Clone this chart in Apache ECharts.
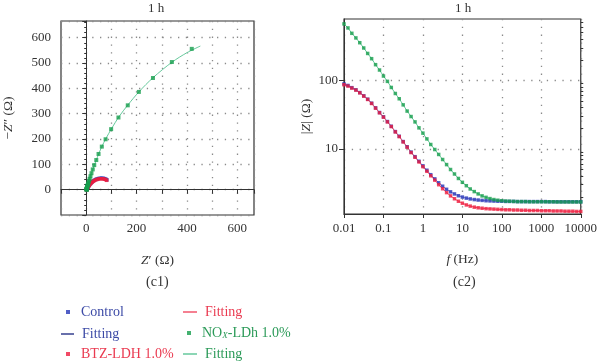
<!DOCTYPE html>
<html><head><meta charset="utf-8">
<script src="https://cdn.jsdelivr.net/npm/echarts@6/dist/echarts.min.js"></script>
<style>html,body{margin:0;padding:0;background:#fff}#c{width:600px;height:363px}</style>
</head><body><div id="c"></div><script>
// ---------- Nyquist (c1) ----------
const nyqControlX = [1.7,1.9,2.2,2.6,3.1,3.7,4.4,5.2,6.2,7.4,8.8,10.5,12.5,14.8,17.5,20.6,24.2,28.2,32.7,37.7,43.2,49.2,55.4,61.6,67.6,73,77.8,82];
const nyqControlY = [0.2,0.6,1.2,2,3,4.2,5.6,7.2,9.1,11.2,13.6,16.2,19,22,25.1,28.3,31.5,34.6,37.5,40.2,42.4,44.1,45.1,45.4,44.9,43.6,41.6,39];
const nyqBtzX = [1.3,1.5,1.8,2.2,2.7,3.3,4,4.8,5.8,7,8.4,10.1,12.1,14.4,17.1,20.2,23.8,27.8,32.3,37.3,42.8,48.8,55,61.2,67.2,72.6,77.4,81.6];
const nyqBtzY = [0.2,0.5,1,1.7,2.6,3.7,5,6.5,8.3,10.3,12.6,15.1,17.8,20.7,23.7,26.8,29.9,33,35.8,38.4,40.5,42.1,43,43.2,42.7,41.4,39.5,37];
const nyqNoxX = [1.7,1.75,1.8,1.9,2,2.2,2.4,2.7,3,3.4,3.9,4.5,5.3,6.3,7.5,9,11,14,17,21,26,32,40,49,62,77,99,128,165,209,265,340,419];
const nyqNoxY = [0.3,0.6,1,1.6,2.3,3.1,4.1,5.3,6.7,8.3,10.2,12.5,15.5,19,23,28,35,43,53,65,80,97,117,141,170,199,239,285,333,386,441,504,556];
const nyqNoxFitX = [1.7,3,6,10,20,40,60,80,100,130,165,210,265,340,400,453];
const nyqNoxFitY = [0,7,19,33,63,117,166,205,240,288,334,387,442,503,541,567];
const nyqTicks = [0,200,400,600];

// ---------- Bode (c2) ----------
const freq = [0.01,0.0126,0.0158,0.02,0.0251,0.0316,0.0398,0.0501,0.0631,0.0794,
  0.1,0.126,0.158,0.2,0.251,0.316,0.398,0.501,0.631,0.794,
  1,1.26,1.58,2,2.51,3.16,3.98,5.01,6.31,7.94,
  10,12.6,15.8,20,25.1,31.6,39.8,50.1,63.1,79.4,
  100,126,158,200,251,316,398,501,631,794,
  1000,1260,1580,2000,2510,3160,3980,5010,6310,7940,10000];
const bodeControl = [89,84.5,78.5,73,66.5,59.6,53.2,46.5,39.8,34,
  29.4,25.1,21.4,17.9,15.3,12.8,10.75,8.98,7.7,6.6,
  5.66,4.88,4.2,3.65,3.2,2.85,2.57,2.36,2.2,2.07,
  1.98,1.91,1.86,1.82,1.79,1.77,1.75,1.74,1.73,1.72,
  1.72,1.71,1.71,1.71,1.70,1.70,1.70,1.70,1.70,1.70,
  1.70,1.70,1.69,1.69,1.69,1.69,1.69,1.69,1.69,1.69,1.69];
const bodeBtz = [86.5,82.8,77.4,72.3,66,59.1,52.8,46.1,39.4,33.7,
  29.1,24.8,21.2,17.7,15.1,12.65,10.6,8.84,7.56,6.45,
  5.51,4.71,4.05,3.5,3.0,2.62,2.3,2.06,1.87,1.72,
  1.61,1.52,1.46,1.41,1.38,1.36,1.34,1.33,1.32,1.31,
  1.30,1.29,1.29,1.28,1.28,1.27,1.27,1.26,1.26,1.26,
  1.25,1.25,1.25,1.24,1.24,1.24,1.23,1.23,1.23,1.22,1.22];
const bodeNox = [670,585,488,418,356,298,248,208,170,142,
  116,97,79,64.5,54,44,35.7,29.7,24.8,20.3,
  17,14,11.6,9.8,8.3,7,5.9,5,4.3,3.7,
  3.25,2.9,2.6,2.38,2.2,2.06,1.96,1.88,1.82,1.78,
  1.75,1.73,1.72,1.71,1.70,1.70,1.70,1.69,1.69,1.69,
  1.69,1.69,1.69,1.69,1.68,1.68,1.68,1.68,1.68,1.68,1.68];
const bodeYLabels = [10,100];
const bodeYMinor = [2,3,4,5,6,7,8,9,20,30,40,50,60,70,80,90,200,300,400,500,600,700];

const FONT = '"Liberation Serif","DejaVu Serif",serif';
const C_BLUE = '#2636b8', C_BLUE_FIT = '#36408f', C_BLUE_TXT = '#3c4aa6';
const C_RED = '#ee1d3f', C_RED_FIT = '#f2566c', C_RED_TXT = '#ea3a50';
const C_GREEN = '#159e4c', C_GREEN_FIT = '#66c99c', C_GREEN_TXT = '#2b9a58';

const pairs = (xs, ys) => xs.map((x, i) => [x, ys[i]]);

const gridLine = {show: true, lineStyle: {color: '#8a8a8a', width: 1.3, type: [1.3, 6.5]}};
const axLine = {show: true, lineStyle: {color: '#333', width: 1}};
const lbl = {color: '#333', fontFamily: FONT, fontSize: 13};
const nameStyle = {color: '#333', fontFamily: FONT, fontSize: 13.5, rich: {i: {fontStyle: 'italic', fontFamily: FONT, fontSize: 13.5, color: '#333'}}};

function fit(name, data, color, xi, width) {
  return {name, type: 'line', xAxisIndex: xi, yAxisIndex: xi, data, smooth: xi === 0 ? 0.3 : false,
    symbol: 'none', lineStyle: {color, width}, itemStyle: {color}, z: 2, silent: true};
}
function pts(name, data, color, xi, size) {
  return {name, type: 'scatter', xAxisIndex: xi, yAxisIndex: xi, data, symbol: 'rect',
    symbolSize: size, itemStyle: {color}, z: 3, silent: true};
}

function legendItem(name, left, top, textColor, icon, w, h, formatter, padLeft) {
  return {data: [name], left, top, padding: 0, itemWidth: w, itemHeight: h, icon,
    selectedMode: false, formatter,
    textStyle: {color: textColor, fontFamily: FONT, fontSize: 14, padding: [0, 0, 0, padLeft],
      rich: {a: {color: textColor, fontFamily: FONT, fontSize: 14},
             s: {color: textColor, fontFamily: FONT, fontSize: 9, fontStyle: 'italic', verticalAlign: 'bottom', padding: [5, 0, 0, 0]}}}};
}

const option = {
  animation: false,
  backgroundColor: '#fff',
  grid: [
    {left: 61, top: 21, width: 193, height: 194, show: true, borderColor: '#333', borderWidth: 1.2, backgroundColor: 'transparent'},
    {left: 344, top: 19, width: 240, height: 195, show: true, borderColor: '#333', borderWidth: 1.2, backgroundColor: 'transparent'}
  ],
  xAxis: [
    {type: 'value', gridIndex: 0, min: -100, max: 666, interval: 100,
      axisLine: axLine, axisTick: {show: true, length: 4, lineStyle: {color: '#333'}},
      axisLabel: Object.assign({margin: 7, customValues: nyqTicks, formatter: v => (v >= 0 && v % 200 === 0) ? String(v) : ''}, lbl),
      splitLine: gridLine,
      name: '{i|Z}\u2032 (\u03A9)', nameLocation: 'middle', nameGap: 38, nameTextStyle: nameStyle},
    {type: 'log', gridIndex: 1, min: 0.01, max: 10000, logBase: 10,
      axisLine: axLine, axisTick: {show: true, length: 4, lineStyle: {color: '#333'}},
      axisLabel: Object.assign({margin: 8, formatter: v => String(v)}, lbl),
      splitLine: gridLine,
      name: '{i|f} (Hz)', nameLocation: 'middle', nameGap: 38, nameTextStyle: nameStyle}
  ],
  yAxis: [
    {type: 'value', gridIndex: 0, min: -100, max: 666, interval: 100,
      axisLine: axLine, axisTick: {show: true, length: 4, lineStyle: {color: '#333'}},
      minorTick: {show: true, splitNumber: 5, length: 2, lineStyle: {color: '#333'}},
      axisLabel: Object.assign({margin: 10, formatter: v => (v >= 0 && v % 100 === 0) ? String(v) : ''}, lbl),
      splitLine: gridLine,
      name: '\u2212{i|Z}\u2033 (\u03A9)', nameLocation: 'middle', nameGap: 46, nameTextStyle: nameStyle},
    {type: 'log', gridIndex: 1, min: 1.12, max: 790, logBase: 10,
      axisLine: axLine, axisTick: {show: true, length: 5, customValues: bodeYLabels, lineStyle: {color: '#333'}},
      axisLabel: Object.assign({margin: 6, customValues: bodeYLabels, formatter: v => String(v)}, lbl),
      splitLine: gridLine,
      name: '|{i|Z}| (\u03A9)', nameLocation: 'middle', nameGap: 31, nameTextStyle: nameStyle},
    {type: 'log', gridIndex: 1, min: 1.12, max: 790, logBase: 10,
      axisLine: {show: false}, axisTick: {show: true, length: 2.5, customValues: bodeYMinor, lineStyle: {color: '#333'}},
      axisLabel: {show: false}, splitLine: {show: false}}
  ],
  legend: [
    legendItem('Control', 66, 305, C_BLUE_TXT, 'rect', 4, 4, () => 'Control', 6),
    legendItem('FitBlue', 61, 327, C_BLUE_TXT, 'rect', 13, 1.5, () => 'Fitting', 3),
    legendItem('BTZ', 66, 347, C_RED_TXT, 'rect', 4, 4, () => 'BTZ-LDH 1.0%', 6),
    legendItem('FitRed', 183, 305, C_RED_TXT, 'rect', 14, 1.5, () => 'Fitting', 3),
    legendItem('NOX', 187, 326, C_GREEN_TXT, 'rect', 4, 4, () => '{a|NO}{s|X}{a|-LDh 1.0%}', 6),
    legendItem('FitGreen', 183, 347, C_GREEN_TXT, 'rect', 14, 1.5, () => 'Fitting', 3)
  ],
  graphic: [
    {type: 'text', left: 157 - 9, top: 2, style: {text: '1 h', font: '13px ' + FONT, fill: '#333'}},
    {type: 'text', left: 464 - 9, top: 2, style: {text: '1 h', font: '13px ' + FONT, fill: '#333'}},
    {type: 'text', left: 157 - 11, top: 275, style: {text: '(c1)', font: '14px ' + FONT, fill: '#333'}},
    {type: 'text', left: 464 - 11, top: 275, style: {text: '(c2)', font: '14px ' + FONT, fill: '#333'}}
  ],
  series: [
    fit('FitBlue', pairs(nyqControlX, nyqControlY), C_BLUE_FIT, 0, 1),
    fit('FitRed', pairs(nyqBtzX, nyqBtzY), C_RED_FIT, 0, 1),
    fit('FitGreen', pairs(nyqNoxFitX, nyqNoxFitY), C_GREEN_FIT, 0, 1),
    pts('Control', pairs(nyqControlX, nyqControlY), C_BLUE, 0, 3.5),
    pts('BTZ', pairs(nyqBtzX, nyqBtzY), C_RED, 0, 3.5),
    pts('NOX', pairs(nyqNoxX, nyqNoxY), C_GREEN, 0, 4),
    fit('FitBlue', pairs(freq, bodeControl), '#8a86d6', 1, 1),
    fit('FitRed', pairs(freq, bodeBtz), C_RED_FIT, 1, 1),
    fit('FitGreen', pairs(freq, bodeNox), C_GREEN_FIT, 1, 1),
    pts('Control', pairs(freq, bodeControl), C_BLUE, 1, 3.5),
    pts('BTZ', pairs(freq, bodeBtz), C_RED, 1, 3.5),
    pts('NOX', pairs(freq, bodeNox), C_GREEN, 1, 3.5)
  ]
};
const chart = echarts.init(document.getElementById('c'));
chart.setOption(option);
</script></body></html>
